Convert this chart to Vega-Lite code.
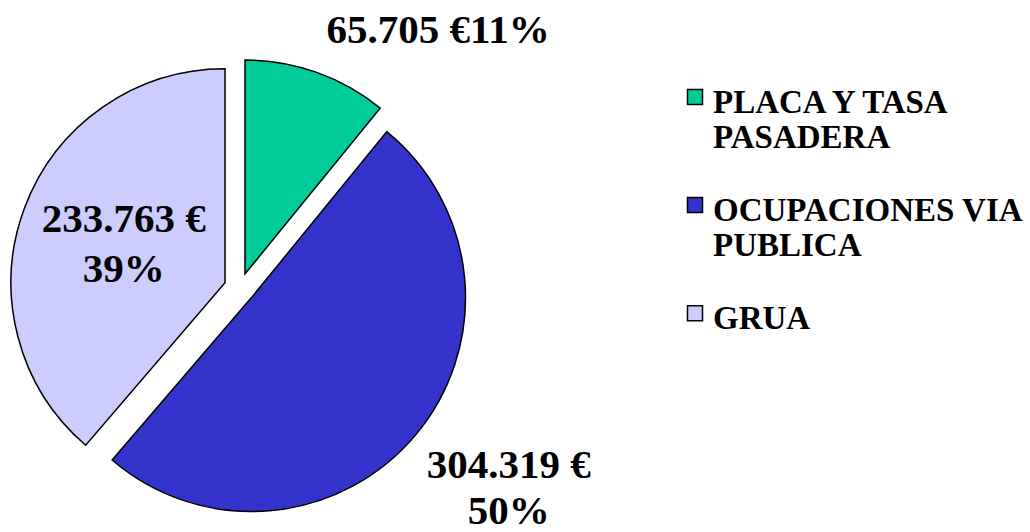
{
  "$schema": "https://vega.github.io/schema/vega-lite/v6.json",
  "background": "white",
  "autosize": {"type": "pad"},
  "bounds": "flush",
  "padding": {"left": 0, "top": 10, "right": 0, "bottom": 0},
  "datasets": {
    "ingresos": [
      {"category": "PLACA Y TASA PASADERA", "amount": 65705},
      {"category": "OCUPACIONES VIA PUBLICA", "amount": 304319},
      {"category": "GRUA", "amount": 233763}
    ]
  },
  "data": {"name": "ingresos"},
  "transform": [
    {"window": [{"op": "row_number", "as": "idx"}]},
    {"joinaggregate": [{"op": "sum", "field": "amount", "as": "total"}]},
    {"stack": "amount", "groupby": [], "sort": [{"field": "idx", "order": "ascending"}], "as": ["t0", "t1"]},
    {"calculate": "(datum.t0 + datum.t1) / 2", "as": "tmid"},
    {"calculate": "replace(format(datum.amount, ','), ',', '.') + ' €'", "as": "euros"},
    {"calculate": "format(datum.amount / datum.total, '.0%')", "as": "pct"},
    {"calculate": "replace(datum.category, regexp('(TASA|VIA) '), '$1\\n')", "as": "legendLabel"}
  ],
  "hconcat": [
    {
      "width": 480,
      "height": 480,
      "layer": [
        {
          "transform": [{"filter": "datum.category === 'PLACA Y TASA PASADERA'"}],
          "mark": {"type": "arc", "outerRadius": 214, "stroke": "#000000", "strokeWidth": 1.5, "xOffset": 5, "yOffset": -14},
          "encoding": {
            "theta": {"field": "t1", "type": "quantitative", "scale": {"nice": false, "zero": true}},
            "theta2": {"field": "t0"},
            "color": {"field": "category", "type": "nominal", "scale": {"domain": ["PLACA Y TASA PASADERA", "OCUPACIONES VIA PUBLICA", "GRUA"], "range": ["#00CC99", "#3333CC", "#CCCCFF"]}, "legend": null}
          }
        },
        {
          "transform": [{"filter": "datum.category === 'OCUPACIONES VIA PUBLICA'"}],
          "mark": {"type": "arc", "outerRadius": 214, "stroke": "#000000", "strokeWidth": 1.5, "xOffset": 11.5, "yOffset": 9.6},
          "encoding": {
            "theta": {"field": "t1", "type": "quantitative", "scale": {"nice": false, "zero": true}},
            "theta2": {"field": "t0"},
            "color": {"field": "category", "type": "nominal", "scale": {"domain": ["PLACA Y TASA PASADERA", "OCUPACIONES VIA PUBLICA", "GRUA"], "range": ["#00CC99", "#3333CC", "#CCCCFF"]}, "legend": null}
          }
        },
        {
          "transform": [{"filter": "datum.category === 'GRUA'"}],
          "mark": {"type": "arc", "outerRadius": 214, "stroke": "#000000", "strokeWidth": 1.5, "xOffset": -15, "yOffset": -5.2},
          "encoding": {
            "theta": {"field": "t1", "type": "quantitative", "scale": {"nice": false, "zero": true}},
            "theta2": {"field": "t0"},
            "color": {"field": "category", "type": "nominal", "scale": {"domain": ["PLACA Y TASA PASADERA", "OCUPACIONES VIA PUBLICA", "GRUA"], "range": ["#00CC99", "#3333CC", "#CCCCFF"]}, "legend": null}
          }
        },
        {
          "transform": [
            {"filter": "datum.category === 'PLACA Y TASA PASADERA'"},
            {"calculate": "datum.euros + datum.pct", "as": "label"}
          ],
          "mark": {"type": "text", "radius": 315, "thetaOffset": 0.338, "font": "Liberation Serif", "fontSize": 41, "fontWeight": "bold", "align": "center", "baseline": "alphabetic", "color": "#000000"},
          "encoding": {
            "theta": {"field": "tmid", "type": "quantitative", "scale": {"nice": false, "zero": true}},
            "text": {"field": "label"}
          }
        },
        {
          "transform": [
            {"filter": "datum.category === 'OCUPACIONES VIA PUBLICA'"},
            {"calculate": "datum.euros + '\\n' + datum.pct", "as": "label"}
          ],
          "mark": {"type": "text", "radius": 329, "thetaOffset": -0.082, "font": "Liberation Serif", "fontSize": 41, "fontWeight": "bold", "align": "center", "baseline": "alphabetic", "lineBreak": "\n", "lineHeight": 46, "color": "#000000"},
          "encoding": {
            "theta": {"field": "tmid", "type": "quantitative", "scale": {"nice": false, "zero": true}},
            "text": {"field": "label"}
          }
        },
        {
          "transform": [
            {"filter": "datum.category === 'GRUA'"},
            {"calculate": "datum.euros + '\\n' + datum.pct", "as": "label"}
          ],
          "mark": {"type": "text", "radius": 129, "thetaOffset": 0.094, "font": "Liberation Serif", "fontSize": 41, "fontWeight": "bold", "align": "center", "baseline": "alphabetic", "lineBreak": "\n", "lineHeight": 50, "color": "#000000"},
          "encoding": {
            "theta": {"field": "tmid", "type": "quantitative", "scale": {"nice": false, "zero": true}},
            "text": {"field": "label"}
          }
        }
      ]
    },
    {
      "width": 30,
      "height": 346,
      "layer": [
        {
          "mark": {"type": "point", "shape": "square", "filled": true, "size": 225, "stroke": "#000000", "strokeWidth": 1.5, "opacity": 1, "yOffset": -16},
          "encoding": {
            "y": {"field": "category", "type": "nominal", "scale": {"type": "point", "padding": 0.6, "domain": ["PLACA Y TASA PASADERA", "OCUPACIONES VIA PUBLICA", "GRUA"]}, "axis": null},
            "color": {"field": "category", "type": "nominal", "scale": {"domain": ["PLACA Y TASA PASADERA", "OCUPACIONES VIA PUBLICA", "GRUA"], "range": ["#00CC99", "#3333CC", "#CCCCFF"]}, "legend": null}
          }
        },
        {
          "mark": {"type": "text", "align": "left", "baseline": "alphabetic", "dx": 18, "font": "Liberation Serif", "fontSize": 33, "fontWeight": "bold", "lineBreak": "\n", "lineHeight": 35, "color": "#000000"},
          "encoding": {
            "y": {"field": "category", "type": "nominal", "scale": {"type": "point", "padding": 0.6, "domain": ["PLACA Y TASA PASADERA", "OCUPACIONES VIA PUBLICA", "GRUA"]}, "axis": null},
            "text": {"field": "legendLabel"}
          }
        }
      ]
    }
  ],
  "spacing": 200,
  "config": {"view": {"stroke": null}}
}
